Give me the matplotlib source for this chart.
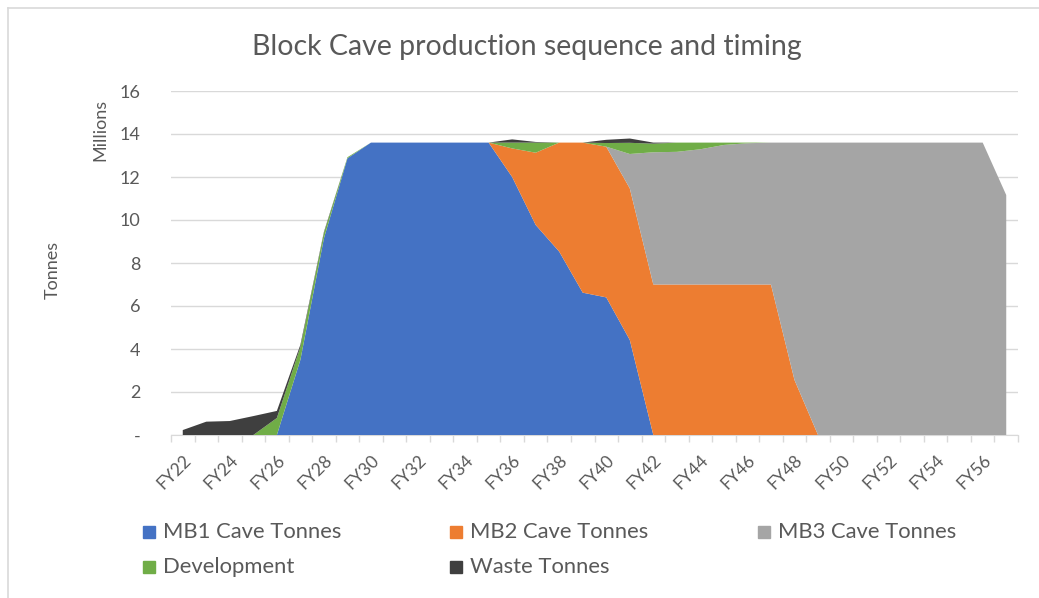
import numpy as np
import matplotlib.pyplot as plt
from matplotlib.patches import Rectangle
from matplotlib.lines import Line2D

years = [f'FY{y}' for y in range(22, 58)]

# Tonnes per year, in millions
mb1 = [0, 0, 0, 0, 0, 3.5, 9.15, 12.87, 13.6, 13.6, 13.6, 13.6, 13.6, 13.6,
       12.0, 9.77, 8.53, 6.62, 6.4, 4.42, 0, 0, 0, 0, 0, 0, 0, 0, 0, 0, 0, 0,
       0, 0, 0, 0]
mb2 = [0, 0, 0, 0, 0, 0, 0, 0, 0, 0, 0, 0, 0, 0,
       1.33, 3.36, 5.07, 6.98, 7.01, 7.05, 7.0, 7.0, 7.0, 7.0, 7.0, 7.0, 2.56,
       0, 0, 0, 0, 0, 0, 0, 0, 0]
mb3 = [0, 0, 0, 0, 0, 0, 0, 0, 0, 0, 0, 0, 0, 0,
       0, 0, 0, 0, 0, 1.6, 6.15, 6.17, 6.29, 6.49, 6.57, 6.6, 11.04,
       13.6, 13.6, 13.6, 13.6, 13.6, 13.6, 13.6, 13.6, 11.16]
development = [0, 0, 0, 0, 0.79, 0.6, 0.25, 0.05, 0, 0, 0, 0, 0, 0,
               0.27, 0.47, 0, 0, 0.17, 0.52, 0.4, 0.43, 0.31, 0.11, 0.03, 0,
               0, 0, 0, 0, 0, 0, 0, 0, 0, 0]
waste = [0.23, 0.62, 0.65, 0.88, 0.33, 0.1, 0.05, 0, 0, 0, 0, 0, 0, 0,
         0.15, 0.03, 0, 0, 0.15, 0.2, 0.05, 0, 0, 0, 0, 0, 0, 0, 0, 0, 0,
         0, 0, 0, 0, 0]

labels = ['MB1 Cave Tonnes', 'MB2 Cave Tonnes', 'MB3 Cave Tonnes',
          'Development', 'Waste Tonnes']
colors = ['#4472C4', '#ED7D31', '#A5A5A5', '#70AD47', '#3F3F3F']

plt.rcParams['font.family'] = ['Lato', 'DejaVu Sans']
txt = '#595959'
W, H = 1039, 598

fig = plt.figure(figsize=(W / 100, H / 100), dpi=100)
ax = fig.add_axes([171 / W, 1 - 435 / H, (1018 - 171) / W, (435 - 91) / H])

x = np.arange(len(years))
ax.stackplot(x, mb1, mb2, mb3, development, waste, colors=colors,
             labels=labels, linewidth=0, zorder=3)

ax.set_xlim(-0.5, len(years) - 0.5)
ax.set_ylim(0, 16)
ax.set_yticks(range(0, 17, 2))
ax.set_yticklabels(['-'] + [str(v) for v in range(2, 17, 2)], fontsize=13, color=txt)
ax.grid(axis='y', color='#D9D9D9', linewidth=1, zorder=0)
ax.tick_params(axis='y', length=0, pad=22)

ax.set_xticks(x[::2])
ax.set_xticklabels(years[::2], rotation=45, ha='right', rotation_mode='anchor',
                   fontsize=12.5, color=txt)
ax.set_xticks(np.arange(-0.5, len(years)), minor=True)
ax.tick_params(axis='x', which='major', length=0, pad=12)
ax.tick_params(axis='x', which='minor', length=5, color='#D9D9D9', width=1)

for s in ['top', 'right', 'left']:
    ax.spines[s].set_visible(False)
ax.spines['bottom'].set_color('#D9D9D9')

fig.text(527 / W, 1 - 47 / H, 'Block Cave production sequence and timing',
         ha='center', va='center', fontsize=20.5, color=txt)
fig.text(100 / W, 1 - 130 / H, 'Millions', rotation=90, ha='center', va='center',
         fontsize=13, color=txt)
fig.text(53 / W, 1 - 270 / H, 'Tonnes', rotation=90, ha='center', va='center',
         fontsize=13, color=txt)

# legend laid out in a 3-column grid below the plot
cols = [143, 450, 758]
rows = [532, 567]
for i, (lab, c) in enumerate(zip(labels, colors)):
    px, py = cols[i % 3], rows[i // 3]
    fig.patches.append(Rectangle((px / W, 1 - (py + 6) / H), 12 / W, 12 / H,
                                 transform=fig.transFigure, color=c))
    fig.text((px + 20) / W, 1 - py / H, lab, ha='left', va='center',
             fontsize=15.8, color=txt)

# chart frame
fig.add_artist(Line2D([8 / W, 8 / W], [0, 1 - 8 / H], color='#D9D9D9', linewidth=1.2))
fig.add_artist(Line2D([8 / W, 1], [1 - 8 / H, 1 - 8 / H], color='#D9D9D9', linewidth=1.2))

fig.savefig('out.png', dpi=100)
